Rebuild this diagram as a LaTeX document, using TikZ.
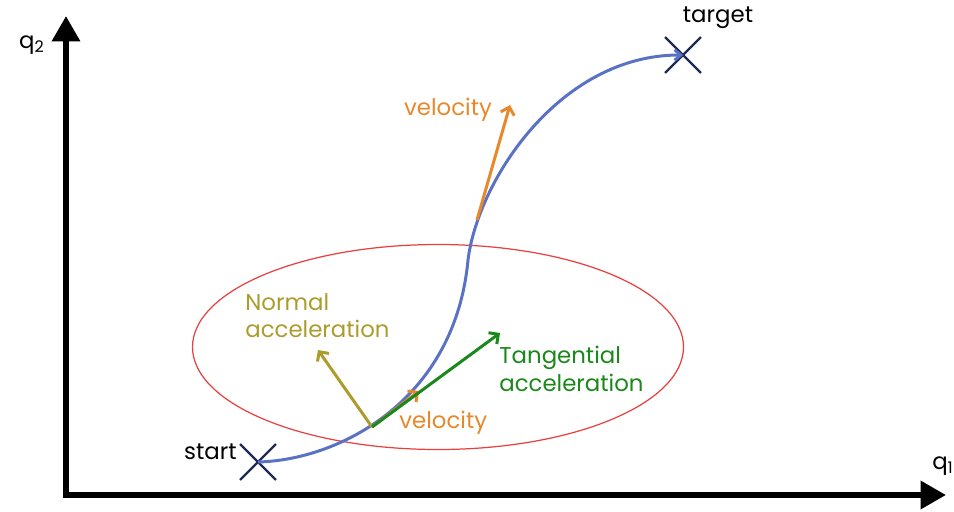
\documentclass[tikz,border=0pt]{standalone}
\usepackage{fontspec}
\setmainfont{Poppins}
\usetikzlibrary{arrows.meta,shapes.misc,shapes.geometric}
\definecolor{path}{HTML}{5A72C4}
\definecolor{mark}{HTML}{1F2A55}
\definecolor{zone}{HTML}{E8403F}
\definecolor{vel}{HTML}{E8882A}
\definecolor{nrm}{HTML}{AC9C2C}
\definecolor{tng}{HTML}{1A881A}
\tikzset{
  axis/.style={line width=3.4pt, -{Triangle[length=14.5pt, width=15.5pt]}},
  cross/.style={cross out, draw=mark, line width=1.4pt, minimum size=19pt,
    inner sep=0pt},
  vec/.style={line width=1.7pt, -{Straight Barb[length=4pt, width=8pt]}},
  lab/.style={font=\fontsize{13}{15.5}\selectfont, inner sep=0pt},
}

\begin{document}
\begin{tikzpicture}[x=0.02cm, y=-0.02cm]
\useasboundingbox (0,0) rectangle (954,511);

% The configuration axes q1 and q2.
\coordinate (origin) at (66,495);
\coordinate (ytip) at (66,16);
\coordinate (xtip) at (946,495);
\draw[axis] ([yshift=-1.7pt]origin) -- (ytip);
\draw[axis] ([xshift=-1.7pt]origin) -- (xtip);
\node[lab] (q2) at (32,45) {q\textsubscript{2}};
\node[lab] (q1) at (943,466) {q\textsubscript{1}};

% The zone of the trajectory that is looked at more closely.
\node[draw=zone, line width=0.7pt, ellipse, minimum width=491*0.02cm,
  minimum height=205*0.02cm, inner sep=0pt] (zoom) at (438,347) {};

% The trajectory, from start to target.
\node[cross] (start) at (258,462) {};
\node[cross] (target) at (683,55) {};
\coordinate (bend) at (468,260);
\draw[path, line width=1.7pt, -{Straight Barb[length=3.5pt, width=6pt]}]
  (start.center)
  .. controls (340,460) and (455,400) .. (bend)
  .. controls (478,180) and (560,55) .. (target.center);
\node[lab, anchor=east] (startlab) at (237,452) {start};
\node[lab] (targetlab) at (718,18) {target};

% Velocity further along the path.
\coordinate (v2a) at (477,220);
\coordinate (v2b) at (510,105);
\draw[vec, vel] (v2a) -- (v2b);
\node[lab, text=vel] (v2lab) at (448,110) {velocity};

% Decomposition of the acceleration at one point.
\coordinate (pt) at (372,427);
\coordinate (ntip) at (318,350);
\coordinate (ttip) at (500,333);
\coordinate (vtip) at (419,391);
\draw[vec, vel] (pt) -- (vtip);
\draw[vec, nrm] (pt) -- (ntip);
\draw[vec, tng] (pt) -- (ttip);
\node[lab, text=nrm, align=left, anchor=west] (nlab) at (245,316)
  {Normal\\acceleration};
\node[lab, text=tng, align=left, anchor=west] (tlab) at (499,369)
  {Tangential\\acceleration};
\node[lab, text=vel, anchor=west] (v1lab) at (399,423) {velocity};

\end{tikzpicture}
\end{document}
